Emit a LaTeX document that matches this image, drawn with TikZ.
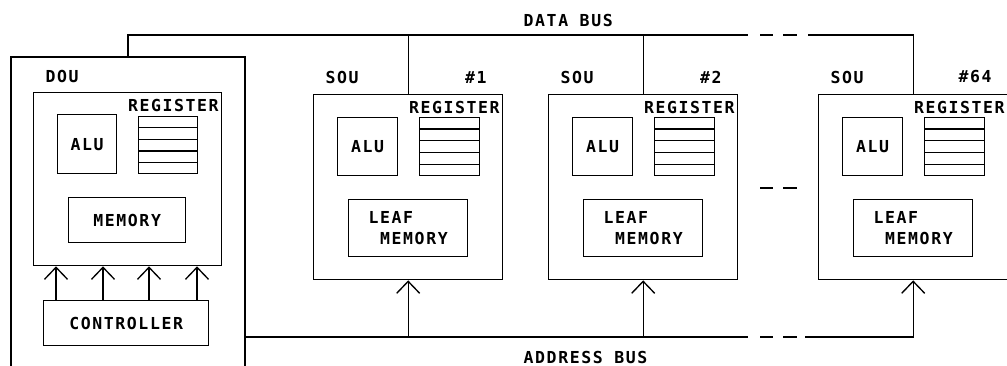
\documentclass[tikz,border=0pt]{standalone}
\usepackage{fontspec}
\newfontfamily\plotfont{DejaVu Sans Mono}[LetterSpace=9.7]
\usetikzlibrary{arrows.meta,calc}

% horizontal separators of a five-row register file
\newcommand\regrows[1]{%
  \foreach \r in {1,...,4}
    \draw ($(#1.north west)!\r/5!(#1.south west)$) -- ($(#1.north east)!\r/5!(#1.south east)$);}

\tikzset{
  box/.style={draw, inner sep=0pt, anchor=north west},
  lbl/.style={inner sep=0pt},
  arr/.style={-{Straight Barb[length=12pt,width=23pt]}},
  busgap/.style={dash pattern=on 0pt off 12pt on 13pt off 10pt on 14pt off 40pt},
}

\begin{document}
\begin{tikzpicture}[x=1pt,y=-1pt,line width=1.35pt,
  font=\plotfont\bfseries\fontsize{16.5pt}{21pt}\selectfont]
\useasboundingbox (0,0) rectangle (1007,366);

% ---------------- DOU (open at the bottom) ----------------
\draw (11,366) -- (11,57) -- (245,57) -- (245,366);
\coordinate (doutop) at (128,57);
\coordinate (abL) at (245,337);

\node[box, minimum width=188pt, minimum height=173pt] (dinner) at (33,92) {};
\node[box, minimum width=59pt, minimum height=59pt] (dalu) at (57,114) {ALU};
\node[box, minimum width=59pt, minimum height=57pt] (dreg) at (138,116) {};
\regrows{dreg}
\node[box, minimum width=117pt, minimum height=45pt] (dmem) at (68,197) {MEMORY};
\node[box, minimum width=165pt, minimum height=45pt] (ctrl) at (43,300) {CONTROLLER};
\node[lbl, anchor=west] (doulbl) at ([shift={(12,-16)}]dinner.north west) {DOU};
\node[lbl, anchor=east] (dreglbl) at ([shift={(-3,13)}]dinner.north east) {REGISTER};

% controller to processing block
\foreach \dx in {13,60,106,154} {
  \path ([xshift=\dx pt]ctrl.north west) coordinate (cp);
  \draw[arr] (cp) -- (cp |- dinner.south);
}

% ---------------- SOU units ----------------
\foreach \i/\x in {1/313, 2/548, 64/818} {
  \node[box, minimum width=189pt, minimum height=185pt] (sou\i) at (\x,94) {};
  \node[box, minimum width=60pt, minimum height=58pt] (alu\i) at (\x+24,117) {ALU};
  \node[box, minimum width=60pt, minimum height=58pt] (reg\i) at (\x+106,117) {};
  \regrows{reg\i}
  \node[box, minimum width=119pt, minimum height=57pt, align=left] (mem\i) at (\x+35,199)
    {LEAF\\\hspace*{11.5pt}MEMORY};
  \node[lbl, anchor=west] (soulbl\i) at ([shift={(12,-17)}]sou\i.north west) {SOU};
  \node[lbl, anchor=east] (numlbl\i) at ([shift={(-16,-17)}]sou\i.north east) {\#\i};
  \node[lbl, anchor=east] (reglbl\i) at ([shift={(-3,13)}]sou\i.north east) {REGISTER};
}

% ---------------- data bus ----------------
\coordinate (dbL) at (128,35);
\coordinate (dbA) at (748,35);
\coordinate (dbB) at (808,35);
\draw (doutop) -- (dbL) -- (dbA);
\draw[busgap] (dbA) -- (dbB);
\draw (dbB) -| (sou64.north);
\draw (sou1.north |- dbL) -- (sou1.north);
\draw (sou2.north |- dbL) -- (sou2.north);
\node[lbl, anchor=west] (dblbl) at (523,20) {DATA BUS};

% gap between unit #2 and unit #64
\coordinate (gapA) at (748,188);
\coordinate (gapB) at (808,188);
\draw[busgap] (gapA) -- (gapB);

% ---------------- address bus ----------------
\coordinate (abA) at (748,337);
\coordinate (abB) at (805,337);
\draw (abL) -- (abA);
\draw[busgap] (abA) -- (abB);
\draw[arr] (abB) -| (sou64.south);
\draw[arr] (sou1.south |- abL) -- (sou1.south);
\draw[arr] (sou2.south |- abL) -- (sou2.south);
\node[lbl, anchor=west] (ablbl) at (523,357) {ADDRESS BUS};
\end{tikzpicture}
\end{document}
